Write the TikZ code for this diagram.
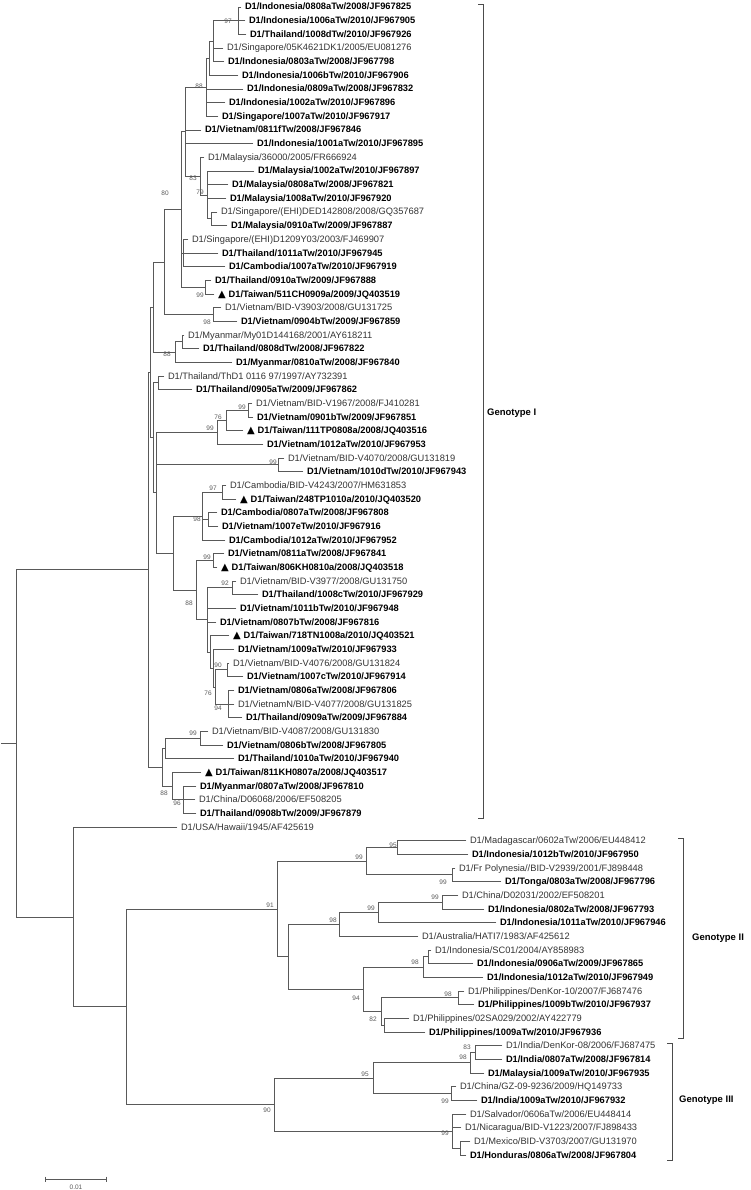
\documentclass[tikz,border=0pt]{standalone}
\usepackage{fontspec}
\setmainfont{Liberation Sans}
\newfontfamily\trifont{DejaVu Sans}
\newcommand\taitri{{\trifont\fontsize{10}{10}\selectfont ▲}\hspace{3pt}}
\newcommand\leafnode[4]{\node[leafn,#3] (L#1) at (#2,{ly(#1)}) {#4};}
\newcommand\tbranch[2]{\foreach \cc in {#2}{\draw[branch] (#1) |- (\cc);}}
\newcommand\inode[3]{\coordinate (#1) at (#2,{ly(#3)});}
\tikzset{
  leafn/.style={anchor=west,inner xsep=4pt,inner ysep=0pt,outer sep=0pt,text height=7pt,text depth=1pt},
  nl/.style={font=\fontsize{9.3}{10}\selectfont,text=black!80},
  bl/.style={font=\fontsize{9.3}{10}\selectfont\bfseries,text=black},
  branch/.style={draw=black!65,line width=0.8pt,line cap=rect},
  bs/.style={font=\fontsize{6.5}{6.5}\selectfont,text=black!65,inner sep=0pt},
  brk/.style={draw=black!70,line width=0.8pt},
  geno/.style={anchor=west,inner sep=0pt,font=\fontsize{9.5}{10}\selectfont\bfseries}
}
\begin{document}
\begin{tikzpicture}[x=1pt,y=-1pt,declare function={ly(\k)=7+(\k-1)*13.6667;}]
\useasboundingbox (0,0) rectangle (750,1190);
% ---------------- leaves ----------------
\leafnode{1}{241}{bl}{D1/Indonesia/0808aTw/2008/JF967825}
\leafnode{2}{245}{bl}{D1/Indonesia/1006aTw/2010/JF967905}
\leafnode{3}{246}{bl}{D1/Thailand/1008dTw/2010/JF967926}
\leafnode{4}{223}{nl}{D1/Singapore/05K4621DK1/2005/EU081276}
\leafnode{5}{224}{bl}{D1/Indonesia/0803aTw/2008/JF967798}
\leafnode{6}{238}{bl}{D1/Indonesia/1006bTw/2010/JF967906}
\leafnode{7}{243}{bl}{D1/Indonesia/0809aTw/2008/JF967832}
\leafnode{8}{225}{bl}{D1/Indonesia/1002aTw/2010/JF967896}
\leafnode{9}{218}{bl}{D1/Singapore/1007aTw/2010/JF967917}
\leafnode{10}{201}{bl}{D1/Vietnam/0811fTw/2008/JF967846}
\leafnode{11}{253}{bl}{D1/Indonesia/1001aTw/2010/JF967895}
\leafnode{12}{204}{nl}{D1/Malaysia/36000/2005/FR666924}
\leafnode{13}{254}{bl}{D1/Malaysia/1002aTw/2010/JF967897}
\leafnode{14}{228}{bl}{D1/Malaysia/0808aTw/2008/JF967821}
\leafnode{15}{226}{bl}{D1/Malaysia/1008aTw/2010/JF967920}
\leafnode{16}{217}{nl}{D1/Singapore/(EHI)DED142808/2008/GQ357687}
\leafnode{17}{227}{bl}{D1/Malaysia/0910aTw/2009/JF967887}
\leafnode{18}{188}{nl}{D1/Singapore/(EHI)D1209Y03/2003/FJ469907}
\leafnode{19}{218}{bl}{D1/Thailand/1011aTw/2010/JF967945}
\leafnode{20}{225}{bl}{D1/Cambodia/1007aTw/2010/JF967919}
\leafnode{21}{211}{bl}{D1/Thailand/0910aTw/2009/JF967888}
\leafnode{22}{214}{bl}{\taitri D1/Taiwan/511CH0909a/2009/JQ403519}
\leafnode{23}{221}{nl}{D1/Vietnam/BID-V3903/2008/GU131725}
\leafnode{24}{237}{bl}{D1/Vietnam/0904bTw/2009/JF967859}
\leafnode{25}{184}{nl}{D1/Myanmar/My01D144168/2001/AY618211}
\leafnode{26}{199}{bl}{D1/Thailand/0808dTw/2008/JF967822}
\leafnode{27}{232}{bl}{D1/Myanmar/0810aTw/2008/JF967840}
\leafnode{28}{164}{nl}{D1/Thailand/ThD1 0116 97/1997/AY732391}
\leafnode{29}{192}{bl}{D1/Thailand/0905aTw/2009/JF967862}
\leafnode{30}{252}{nl}{D1/Vietnam/BID-V1967/2008/FJ410281}
\leafnode{31}{253}{bl}{D1/Vietnam/0901bTw/2009/JF967851}
\leafnode{32}{243}{bl}{\taitri D1/Taiwan/111TP0808a/2008/JQ403516}
\leafnode{33}{263}{bl}{D1/Vietnam/1012aTw/2010/JF967953}
\leafnode{34}{284}{nl}{D1/Vietnam/BID-V4070/2008/GU131819}
\leafnode{35}{303}{bl}{D1/Vietnam/1010dTw/2010/JF967943}
\leafnode{36}{226}{nl}{D1/Cambodia/BID-V4243/2007/HM631853}
\leafnode{37}{236}{bl}{\taitri D1/Taiwan/248TP1010a/2010/JQ403520}
\leafnode{38}{217}{bl}{D1/Cambodia/0807aTw/2008/JF967808}
\leafnode{39}{218}{bl}{D1/Vietnam/1007eTw/2010/JF967916}
\leafnode{40}{225}{bl}{D1/Cambodia/1012aTw/2010/JF967952}
\leafnode{41}{224}{bl}{D1/Vietnam/0811aTw/2008/JF967841}
\leafnode{42}{217}{bl}{\taitri D1/Taiwan/806KH0810a/2008/JQ403518}
\leafnode{43}{236}{nl}{D1/Vietnam/BID-V3977/2008/GU131750}
\leafnode{44}{258}{bl}{D1/Thailand/1008cTw/2010/JF967929}
\leafnode{45}{236}{bl}{D1/Vietnam/1011bTw/2010/JF967948}
\leafnode{46}{216}{bl}{D1/Vietnam/0807bTw/2008/JF967816}
\leafnode{47}{229}{bl}{\taitri D1/Taiwan/718TN1008a/2010/JQ403521}
\leafnode{48}{234}{bl}{D1/Vietnam/1009aTw/2010/JF967933}
\leafnode{49}{229}{nl}{D1/Vietnam/BID-V4076/2008/GU131824}
\leafnode{50}{243}{bl}{D1/Vietnam/1007cTw/2010/JF967914}
\leafnode{51}{234}{bl}{D1/Vietnam/0806aTw/2008/JF967806}
\leafnode{52}{234}{nl}{D1/VietnamN/BID-V4077/2008/GU131825}
\leafnode{53}{242}{bl}{D1/Thailand/0909aTw/2009/JF967884}
\leafnode{54}{208}{nl}{D1/Vietnam/BID-V4087/2008/GU131830}
\leafnode{55}{223}{bl}{D1/Vietnam/0806bTw/2008/JF967805}
\leafnode{56}{234}{bl}{D1/Thailand/1010aTw/2010/JF967940}
\leafnode{57}{201}{bl}{\taitri D1/Taiwan/811KH0807a/2008/JQ403517}
\leafnode{58}{196}{bl}{D1/Myanmar/0807aTw/2008/JF967810}
\leafnode{59}{195}{nl}{D1/China/D06068/2006/EF508205}
\leafnode{60}{196}{bl}{D1/Thailand/0908bTw/2009/JF967879}
\leafnode{61}{177}{nl}{D1/USA/Hawaii/1945/AF425619}
\leafnode{62}{466}{nl}{D1/Madagascar/0602aTw/2006/EU448412}
\leafnode{63}{468}{bl}{D1/Indonesia/1012bTw/2010/JF967950}
\leafnode{64}{455}{nl}{D1/Fr Polynesia//BID-V2939/2001/FJ898448}
\leafnode{65}{501}{bl}{D1/Tonga/0803aTw/2008/JF967796}
\leafnode{66}{458}{nl}{D1/China/D02031/2002/EF508201}
\leafnode{67}{484}{bl}{D1/Indonesia/0802aTw/2008/JF967793}
\leafnode{68}{496}{bl}{D1/Indonesia/1011aTw/2010/JF967946}
\leafnode{69}{418}{nl}{D1/Australia/HATI7/1983/AF425612}
\leafnode{70}{431}{nl}{D1/Indonesia/SC01/2004/AY858983}
\leafnode{71}{473}{bl}{D1/Indonesia/0906aTw/2009/JF967865}
\leafnode{72}{483}{bl}{D1/Indonesia/1012aTw/2010/JF967949}
\leafnode{73}{464}{nl}{D1/Philippines/DenKor-10/2007/FJ687476}
\leafnode{74}{474}{bl}{D1/Philippines/1009bTw/2010/JF967937}
\leafnode{75}{409}{nl}{D1/Philippines/02SA029/2002/AY422779}
\leafnode{76}{425}{bl}{D1/Philippines/1009aTw/2010/JF967936}
\leafnode{77}{502}{nl}{D1/India/DenKor-08/2006/FJ687475}
\leafnode{78}{502}{bl}{D1/India/0807aTw/2008/JF967814}
\leafnode{79}{484}{bl}{D1/Malaysia/1009aTw/2010/JF967935}
\leafnode{80}{456}{nl}{D1/China/GZ-09-9236/2009/HQ149733}
\leafnode{81}{477}{bl}{D1/India/1009aTw/2010/JF967932}
\leafnode{82}{466}{nl}{D1/Salvador/0606aTw/2006/EU448414}
\leafnode{83}{461}{nl}{D1/Nicaragua/BID-V1223/2007/FJ898433}
\leafnode{84}{470}{nl}{D1/Mexico/BID-V3703/2007/GU131970}
\leafnode{85}{466}{bl}{D1/Honduras/0806aTw/2008/JF967804}
% ---------------- internal nodes ----------------
\inode{n97}{238}{2}
\inode{N1}{213}{3.5}
\inode{N2}{209}{4.75}
\inode{n88}{206}{6.875}
\inode{S16}{211}{16.5}
\inode{n79}{207}{14.75}
\inode{n83}{200}{13.375}
\inode{Y1}{185}{10.125}
\inode{Z2}{183}{19}
\inode{n99t}{205}{21.5}
\inode{Z}{181}{15.8125}
\inode{n98v}{213}{23.5}
\inode{n80}{164}{19.656}
\inode{n88ma}{182}{25.5}
\inode{n88m}{175}{26.25}
\inode{Q}{153}{22.953}
\inode{nThD}{158}{28.5}
\inode{n99a}{248}{30.5}
\inode{n76}{226}{31.25}
\inode{V99}{217}{32.125}
\inode{V4070}{278}{34.5}
\inode{n97c}{222}{36.5}
\inode{n3839}{208}{38.5}
\inode{n98c}{202}{38.25}
\inode{n99v}{213}{41.5}
\inode{n92}{232}{43.5}
\inode{n90v}{227}{49.5}
\inode{n94}{228}{52}
\inode{n76v}{215}{50.75}
\inode{X1}{213}{49.375}
\inode{X2}{210}{48.1875}
\inode{W}{207}{45.84}
\inode{n88v}{196}{43.67}
\inode{T}{173}{40.96}
\inode{S}{156}{36.54}
\inode{R}{153}{32.52}
\inode{P}{150}{27.74}
\inode{n99L}{200}{54.5}
\inode{M}{165}{55.25}
\inode{n96}{183}{59}
\inode{n88L}{172}{58}
\inode{nLw}{162}{56.625}
\inode{GI}{148}{42.18}
\inode{n95}{397}{62.5}
\inode{nFT}{452}{64.5}
\inode{A2}{366}{63.5}
\inode{nCI}{442}{66.5}
\inode{n99b}{378}{67.25}
\inode{n98}{339}{68.125}
\inode{n7071}{428}{70.5}
\inode{n98i}{423}{71.25}
\inode{P1}{458}{73.5}
\inode{P2}{384}{75.5}
\inode{n82}{381}{74.5}
\inode{n94g}{363}{72.875}
\inode{B2}{288}{70.5}
\inode{GII}{277}{67}
\inode{n83g}{475}{77.5}
\inode{n98g}{470}{78.25}
\inode{nCI2}{451}{80.5}
\inode{n95g}{373}{79.375}
\inode{nMH}{460}{84.5}
\inode{n99g}{452}{83.25}
\inode{GIII}{274}{81.31}
\inode{Y}{126}{74.16}
\inode{X}{73}{67.58}
\inode{root}{16}{54.88}
\coordinate (r0) at (1,{ly(54.88)});
% ---------------- branches ----------------
\tbranch{n97}{L1,L2,L3}
\tbranch{N1}{n97,L4,L5}
\tbranch{N2}{N1,L6}
\tbranch{n88}{N2,L7,L8,L9}
\tbranch{S16}{L16,L17}
\tbranch{n79}{L13,L14,L15,S16}
\tbranch{n83}{L12,n79}
\tbranch{Y1}{n88,L10,L11,n83}
\tbranch{Z2}{L18,L19,L20}
\tbranch{n99t}{L21,L22}
\tbranch{Z}{Y1,Z2,n99t}
\tbranch{n98v}{L23,L24}
\tbranch{n80}{Z,n98v}
\tbranch{n88ma}{L25,L26}
\tbranch{n88m}{n88ma,L27}
\tbranch{Q}{n80,n88m}
\tbranch{nThD}{L28,L29}
\tbranch{n99a}{L30,L31}
\tbranch{n76}{n99a,L32}
\tbranch{V99}{n76,L33}
\tbranch{V4070}{L34,L35}
\tbranch{n97c}{L36,L37}
\tbranch{n3839}{L38,L39}
\tbranch{n98c}{n97c,n3839,L40}
\tbranch{n99v}{L41,L42}
\tbranch{n92}{L43,L44}
\tbranch{n90v}{L49,L50}
\tbranch{n94}{L51,L52,L53}
\tbranch{n76v}{n90v,n94}
\tbranch{X1}{L48,n76v}
\tbranch{X2}{L47,X1}
\tbranch{W}{n92,L45,L46,X2}
\tbranch{n88v}{n99v,W}
\tbranch{T}{n98c,n88v}
\tbranch{S}{V99,V4070,T}
\tbranch{R}{nThD,S}
\tbranch{P}{Q,R}
\tbranch{n99L}{L54,L55}
\tbranch{M}{n99L,L56}
\tbranch{n96}{L58,L59,L60}
\tbranch{n88L}{L57,n96}
\tbranch{nLw}{M,n88L}
\tbranch{GI}{P,nLw}
\tbranch{n95}{L62,L63}
\tbranch{nFT}{L64,L65}
\tbranch{A2}{n95,nFT}
\tbranch{nCI}{L66,L67}
\tbranch{n99b}{nCI,L68}
\tbranch{n98}{n99b,L69}
\tbranch{n7071}{L70,L71}
\tbranch{n98i}{n7071,L72}
\tbranch{P1}{L73,L74}
\tbranch{P2}{L75,L76}
\tbranch{n82}{P1,P2}
\tbranch{n94g}{n98i,n82}
\tbranch{B2}{n98,n94g}
\tbranch{GII}{A2,B2}
\tbranch{n83g}{L77,L78}
\tbranch{n98g}{n83g,L79}
\tbranch{nCI2}{L80,L81}
\tbranch{n95g}{n98g,nCI2}
\tbranch{nMH}{L84,L85}
\tbranch{n99g}{L82,L83,nMH}
\tbranch{GIII}{n95g,n99g}
\tbranch{Y}{GII,GIII}
\tbranch{X}{L61,Y}
\tbranch{root}{GI,X}
\draw[branch] (r0) -- (root);
% ---------------- bootstrap values ----------------
\node[bs] (b1) at (228,21) {97};
\node[bs] (b2) at (199,86) {88};
\node[bs] (b3) at (193,178) {83};
\node[bs] (b4) at (200,192) {79};
\node[bs] (b5) at (165,193) {80};
\node[bs] (b6) at (200,295) {99};
\node[bs] (b7) at (207,322) {98};
\node[bs] (b8) at (167,354) {88};
\node[bs] (b9) at (242,407) {99};
\node[bs] (b10) at (218,417) {76};
\node[bs] (b11) at (210,428) {99};
\node[bs] (b12) at (273,462) {99};
\node[bs] (b13) at (213,488) {97};
\node[bs] (b14) at (197,519) {98};
\node[bs] (b15) at (207,557) {99};
\node[bs] (b16) at (225,583) {92};
\node[bs] (b17) at (189,603) {88};
\node[bs] (b18) at (218,665) {90};
\node[bs] (b19) at (208,693) {76};
\node[bs] (b20) at (218,708) {94};
\node[bs] (b21) at (193,733) {99};
\node[bs] (b22) at (164,793) {88};
\node[bs] (b23) at (177,803) {96};
\node[bs] (b24) at (393,845) {95};
\node[bs] (b25) at (359,857) {99};
\node[bs] (b26) at (443,882) {99};
\node[bs] (b27) at (270,905) {91};
\node[bs] (b28) at (435,897) {99};
\node[bs] (b29) at (371,908) {99};
\node[bs] (b30) at (333,920) {98};
\node[bs] (b31) at (415,962) {98};
\node[bs] (b32) at (356,998) {94};
\node[bs] (b33) at (448,994) {98};
\node[bs] (b34) at (373,1019) {82};
\node[bs] (b35) at (467,1047) {83};
\node[bs] (b36) at (463,1057) {98};
\node[bs] (b37) at (365,1074) {95};
\node[bs] (b38) at (267,1110) {90};
\node[bs] (b39) at (445,1101) {99};
\node[bs] (b40) at (445,1133) {99};
% ---------------- genotype brackets ----------------
\coordinate (g1a) at (478,4); \coordinate (g1b) at (483,4);
\coordinate (g1c) at (483,818); \coordinate (g1d) at (478,818);
\draw[brk] (g1a) -- (g1b) -- (g1c) -- (g1d);
\node[geno] (G1) at (487,413) {Genotype I};
\coordinate (g2a) at (678,838); \coordinate (g2b) at (683,838);
\coordinate (g2c) at (683,1038); \coordinate (g2d) at (678,1038);
\draw[brk] (g2a) -- (g2b) -- (g2c) -- (g2d);
\node[geno] (G2) at (692,938) {Genotype II};
\coordinate (g3a) at (667,1043); \coordinate (g3b) at (672,1043);
\coordinate (g3c) at (672,1160); \coordinate (g3d) at (667,1160);
\draw[brk] (g3a) -- (g3b) -- (g3c) -- (g3d);
\node[geno] (G3) at (679,1100) {Genotype III};
% ---------------- scale bar ----------------
\coordinate (sb1) at (45,1179); \coordinate (sb2) at (106,1179);
\draw[branch,line cap=butt] (sb1) -- (sb2);
\draw[branch,line cap=butt] ([yshift=2.5pt]sb1) -- ([yshift=-2.5pt]sb1);
\draw[branch,line cap=butt] ([yshift=2.5pt]sb2) -- ([yshift=-2.5pt]sb2);
\node[bs] (sbt) at (76,1187) {0.01};
\end{tikzpicture}
\end{document}
